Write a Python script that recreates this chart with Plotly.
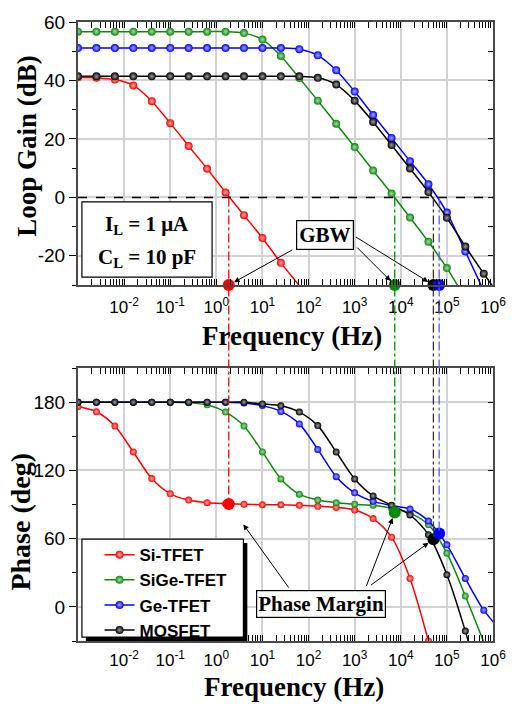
import math
import plotly.graph_objects as go

# Sample frequencies (Hz), 0.4-decade spacing from 1 mHz
freq_hz = [1.0e-3, 2.51e-3, 6.31e-3, 1.585e-2, 3.98e-2, 0.1, 0.251, 0.631,
           1.585, 3.98, 10.0, 25.1, 63.1, 158.5, 398.0, 1.0e3, 2.51e3, 6.31e3,
           1.585e4, 3.98e4, 1.0e5, 2.51e5, 6.31e5, 1.585e6]

# Loop gain (dB)
gain_si = [41.1, 40.9, 40.3, 38.3, 32.9, 25.4, 17.6, 9.8, 1.7, -6.1, -13.9, -22.4,
           -30.2, -38.2, None, None, None, None, None, None, None, None, None, None]
gain_sige = [56.7, 56.7, 56.7, 56.7, 56.7, 56.7, 56.7, 56.7, 56.7, 56.2, 54.0, 48.4,
             40.8, 33.1, 25.2, 17.2, 9.2, 1.3, -6.9, -15.2, -24.2, -34.5, None, None]
gain_ge = [51.1, 51.1, 51.1, 51.1, 51.1, 51.1, 51.1, 51.1, 51.1, 51.1, 51.1, 51.1,
           50.7, 48.6, 43.5, 36.2, 28.2, 20.3, 12.4, 4.5, -5.2, -18.5, -32.0, None]
gain_mos = [41.4, 41.4, 41.4, 41.4, 41.4, 41.4, 41.4, 41.4, 41.4, 41.4, 41.4, 41.4,
            41.4, 40.9, 38.6, 33.1, 25.8, 17.9, 9.9, 1.8, -7.0, -16.8, -26.1, -35.0]

# Phase (deg)
phase_si = [176.2, 171.6, 159.1, 136.2, 112.8, 99.4, 93.9, 91.6, 90.8, 90.2, 89.9, 89.9,
            89.3, 88.4, 87.5, 85.2, 77.7, 61.3, 25.0, -30.0, None, None, None, None]
phase_sige = [180.0, 180.0, 180.0, 180.0, 180.0, 180.0, 179.5, 177.7, 171.3, 159.1, 136.3, 112.5,
              99.1, 93.9, 91.6, 90.2, 89.4, 86.8, 82.5, 72.2, 47.2, 9.6, -31.0, None]
phase_ge = [180.0, 180.0, 180.0, 180.0, 180.0, 180.0, 180.0, 180.0, 180.0, 179.3, 177.0, 171.9,
            160.9, 138.5, 114.5, 100.3, 92.8, 89.2, 86.1, 75.5, 54.6, 25.0, -2.9, -22.0]
phase_mos = [180.0, 180.0, 180.0, 180.0, 180.0, 180.0, 180.0, 180.0, 180.0, 180.0, 178.5, 176.8,
             171.3, 159.4, 136.2, 112.5, 97.6, 89.4, 80.8, 63.4, 28.3, -21.3, -80.0, None]

series_names = ["Si-TFET", "SiGe-TFET", "Ge-TFET", "MOSFET"]
series_colors = ["#ff0000", "#0a8a0a", "#0000ff", "#000000"]
glint_colors = ["#ffb0b0", "#a8dca8", "#b0b0ff", "#a0a0a0"]
guide_colors = ["#ff0000", "#009000", "#5a5aff", "#333333"]

# Unity-gain frequency and phase margin per device
gbw_hz = [1.86, 7.4e3, 6.8e4, 5.1e4]
pm_deg = [90.4, 83.0, 64.5, 59.5]

x_tick_vals = [1e-2, 1e-1, 1e0, 1e1, 1e2, 1e3, 1e4, 1e5, 1e6]
x_tick_text = ["10<sup>-2</sup>", "10<sup>-1</sup>", "10<sup>0</sup>", "10<sup>1</sup>",
               "10<sup>2</sup>", "10<sup>3</sup>", "10<sup>4</sup>", "10<sup>5</sup>",
               "10<sup>6</sup>"]
gain_ticks = [-20, 0, 20, 40, 60]
gain_tick_text = ["-20", "0", "20", "40", "60"]
phase_ticks = [0, 60, 120, 180]
phase_tick_text = ["0", "60", "120", "180"]

GAIN_RANGE = [-30, 60]
PHASE_RANGE = [-30, 210]
TOP_DOMAIN = [0.575, 1.0]
BOTTOM_DOMAIN = [0.0, 0.4409]

# figure geometry (px)
W, H = 518, 704
ML, MR, MT, MB = 78, 16, 15, 63
PW, PH = W - ML - MR, H - MT - MB


def px_x(x):
    return (x - ML) / PW


def px_y(y):
    return (H - MB - y) / PH


def gain_paper(v):
    return TOP_DOMAIN[0] + (v - GAIN_RANGE[0]) / (GAIN_RANGE[1] - GAIN_RANGE[0]) * (TOP_DOMAIN[1] - TOP_DOMAIN[0])


def phase_paper(v):
    return BOTTOM_DOMAIN[0] + (v - PHASE_RANGE[0]) / (PHASE_RANGE[1] - PHASE_RANGE[0]) * (BOTTOM_DOMAIN[1] - BOTTOM_DOMAIN[0])


gains = [gain_si, gain_sige, gain_ge, gain_mos]
phases = [phase_si, phase_sige, phase_ge, phase_mos]

fig = go.Figure()

for name, color, glint, g in zip(series_names, series_colors, glint_colors, gains):
    fig.add_trace(go.Scatter(
        x=freq_hz, y=g, name=name, mode="lines+markers",
        line=dict(color=color, width=1.5, shape="spline", smoothing=0.8),
        marker=dict(symbol="circle", size=8, color=color,
                    gradient=dict(type="radial", color=glint),
                    line=dict(width=0)),
        connectgaps=False, xaxis="x", yaxis="y", showlegend=True,
    ))

for name, color, glint, p in zip(series_names, series_colors, glint_colors, phases):
    fig.add_trace(go.Scatter(
        x=freq_hz, y=p, name=name, mode="lines+markers",
        line=dict(color=color, width=1.5, shape="spline", smoothing=0.8),
        marker=dict(symbol="circle", size=7, color=color,
                    gradient=dict(type="radial", color=glint),
                    line=dict(width=0)),
        connectgaps=False, xaxis="x2", yaxis="y2", showlegend=False,
    ))

# GBW markers on the gain floor, phase-margin markers on the phase curves
order = [0, 1, 3, 2]
fig.add_trace(go.Scatter(
    x=[gbw_hz[i] for i in order], y=[GAIN_RANGE[0]] * 4, mode="markers",
    marker=dict(size=12, color=[series_colors[i] for i in order], line=dict(width=0)),
    cliponaxis=False, xaxis="x", yaxis="y", showlegend=False,
))
fig.add_trace(go.Scatter(
    x=[gbw_hz[i] for i in order], y=[pm_deg[i] for i in order], mode="markers",
    marker=dict(size=12, color=[series_colors[i] for i in order], line=dict(width=0)),
    cliponaxis=False, xaxis="x2", yaxis="y2", showlegend=False,
))

# empty traces that carry the right-hand tick axes
fig.add_trace(go.Scatter(x=[], y=[], xaxis="x", yaxis="y3", showlegend=False, hoverinfo="skip"))
fig.add_trace(go.Scatter(x=[], y=[], xaxis="x2", yaxis="y4", showlegend=False, hoverinfo="skip"))

AXIS_LINE = "#4a4a4a"
GRID = "#d2d2d2"
tick_font_x = dict(family="Liberation Sans, Arial", size=17, color="black")
tick_font_y = dict(family="Liberation Sans, Arial", size=19, color="black")

xaxis_common = dict(
    type="log", range=[-3, 6], domain=[0, 1],
    tickmode="array", tickvals=x_tick_vals, ticktext=x_tick_text,
    ticks="inside", ticklen=6, tickwidth=1, tickcolor="black",
    minor=dict(dtick="D1", ticks="inside", ticklen=3, tickcolor="black", showgrid=False),
    showline=True, linecolor=AXIS_LINE, linewidth=2, mirror="allticks",
    showgrid=True, gridcolor=GRID, gridwidth=1.5,
    tickfont=tick_font_x,
)

yaxis_common = dict(
    tickmode="array", ticks="outside", ticklen=7, tickwidth=1, tickcolor="black",
    showline=True, linecolor=AXIS_LINE, linewidth=2, mirror=True,
    showgrid=True, gridcolor=GRID, gridwidth=1.5, zeroline=False,
    tickfont=tick_font_y,
)

fig.update_layout(
    width=W, height=H,
    margin=dict(l=ML, r=MR, t=MT, b=MB),
    paper_bgcolor="white", plot_bgcolor="white",
    xaxis=dict(anchor="y", ticklabelstandoff=6, **xaxis_common),
    xaxis2=dict(anchor="y2", ticklabelstandoff=3, **xaxis_common),
    yaxis=dict(domain=TOP_DOMAIN, range=GAIN_RANGE, anchor="x",
               tickvals=gain_ticks, ticktext=gain_tick_text,
               minor=dict(dtick=10, tick0=0, ticks="outside", ticklen=4, tickcolor="black"),
               **yaxis_common),
    yaxis2=dict(domain=BOTTOM_DOMAIN, range=PHASE_RANGE, anchor="x2",
                tickvals=phase_ticks, ticktext=phase_tick_text,
                minor=dict(dtick=30, tick0=0, ticks="outside", ticklen=4, tickcolor="black"),
                **yaxis_common),
    yaxis3=dict(overlaying="y", side="right", anchor="x", range=GAIN_RANGE,
                tickmode="linear", tick0=0, dtick=10, ticks="inside", ticklen=5,
                tickcolor="black", showticklabels=False, showgrid=False, zeroline=False,
                showline=False),
    yaxis4=dict(overlaying="y2", side="right", anchor="x2", range=PHASE_RANGE,
                tickmode="linear", tick0=0, dtick=30, ticks="inside", ticklen=5,
                tickcolor="black", showticklabels=False, showgrid=False, zeroline=False,
                showline=False),
    legend=dict(
        x=px_x(100), y=px_y(536), xanchor="left", yanchor="top",
        bgcolor="rgba(0,0,0,0)", borderwidth=0,
        font=dict(family="Liberation Sans, Arial", size=17, color="black", weight="bold"),
        tracegroupgap=0,
    ),
    showlegend=True,
)

shapes = []
# 0 dB reference
shapes.append(dict(type="line", xref="paper", yref="y", x0=0, x1=1, y0=0, y1=0,
                   line=dict(color="black", width=1.5, dash="dash"), layer="above"))
# drop lines from unity-gain crossing to phase-margin point
for f, pm, c in zip(gbw_hz, pm_deg, guide_colors):
    shapes.append(dict(type="line", xref="x", yref="paper", x0=f, x1=f,
                       y0=gain_paper(0), y1=phase_paper(pm),
                       line=dict(color=c, width=1.3, dash="dashdot"), layer="above"))
# legend frame with drop shadow
shapes.append(dict(type="rect", xref="paper", yref="paper",
                   x0=px_x(86), x1=px_x(251), y0=px_y(641), y1=px_y(542),
                   fillcolor="black", line=dict(width=0), layer="above"))
shapes.append(dict(type="rect", xref="paper", yref="paper",
                   x0=px_x(82), x1=px_x(247), y0=px_y(637), y1=px_y(538),
                   fillcolor="white", line=dict(color="black", width=1.2), layer="above"))
# test-condition box
shapes.append(dict(type="rect", xref="paper", yref="paper",
                   x0=px_x(82), x1=px_x(215), y0=px_y(273), y1=px_y(197),
                   fillcolor="white", line=dict(color="black", width=1.2), layer="above"))
fig.update_layout(shapes=shapes)

serif_bold = dict(family="Liberation Serif, Times New Roman", color="black", weight="bold")
centered = dict(xref="paper", yref="paper", xanchor="center", yanchor="middle", showarrow=False)
ann = []
ann.append(dict(text="Loop Gain (dB)", x=px_x(25), y=px_y(140), textangle=-90,
                font=dict(size=27, **serif_bold), **centered))
ann.append(dict(text="Phase (deg)", x=px_x(19), y=px_y(520), textangle=-90,
                font=dict(size=28, **serif_bold), **centered))
ann.append(dict(text="Frequency (Hz)", x=px_x(297), y=px_y(333),
                font=dict(size=27, **serif_bold), **centered))
ann.append(dict(text="Frequency (Hz)", x=px_x(299), y=px_y(688),
                font=dict(size=27, **serif_bold), **centered))
ann.append(dict(text="I<sub>L</sub> = 1 \u03bcA", x=px_x(148.5), y=px_y(220),
                font=dict(size=21, **serif_bold), **centered))
ann.append(dict(text="C<sub>L</sub> = 10 pF", x=px_x(148.5), y=px_y(254),
                font=dict(size=21, **serif_bold), **centered))
ann.append(dict(text="GBW", x=px_x(330), y=px_y(230),
                font=dict(size=21, **serif_bold),
                bgcolor="white", bordercolor="black", borderwidth=1.2, borderpad=2, **centered))
ann.append(dict(text="Phase Margin", x=px_x(326.5), y=px_y(604),
                font=dict(size=21, **serif_bold),
                bgcolor="white", bordercolor="black", borderwidth=1.2, borderpad=1, **centered))

arrow_style = dict(text="", showarrow=True, arrowhead=2, arrowsize=1.1, arrowwidth=1,
                   arrowcolor="black", axref="pixel", ayref="pixel")
# GBW pointers (tail offsets in px from the marked point)
for i, (ax, ay) in zip([0, 1, 3], [(65, -36), (-39, -39), (-79, -49)]):
    ann.append(dict(xref="x", yref="y", x=math.log10(gbw_hz[i]), y=GAIN_RANGE[0],
                    ax=ax, ay=ay, standoff=6, **arrow_style))
# phase-margin pointers
for i, (ax, ay), so in zip([0, 1, 3], [(61, 85), (-29, 75), (-64, 47)], [25, 6, 6]):
    ann.append(dict(xref="x2", yref="y2", x=math.log10(gbw_hz[i]), y=pm_deg[i],
                    ax=ax, ay=ay, standoff=so, **arrow_style))
fig.update_layout(annotations=ann)

fig.write_html("out.html")
